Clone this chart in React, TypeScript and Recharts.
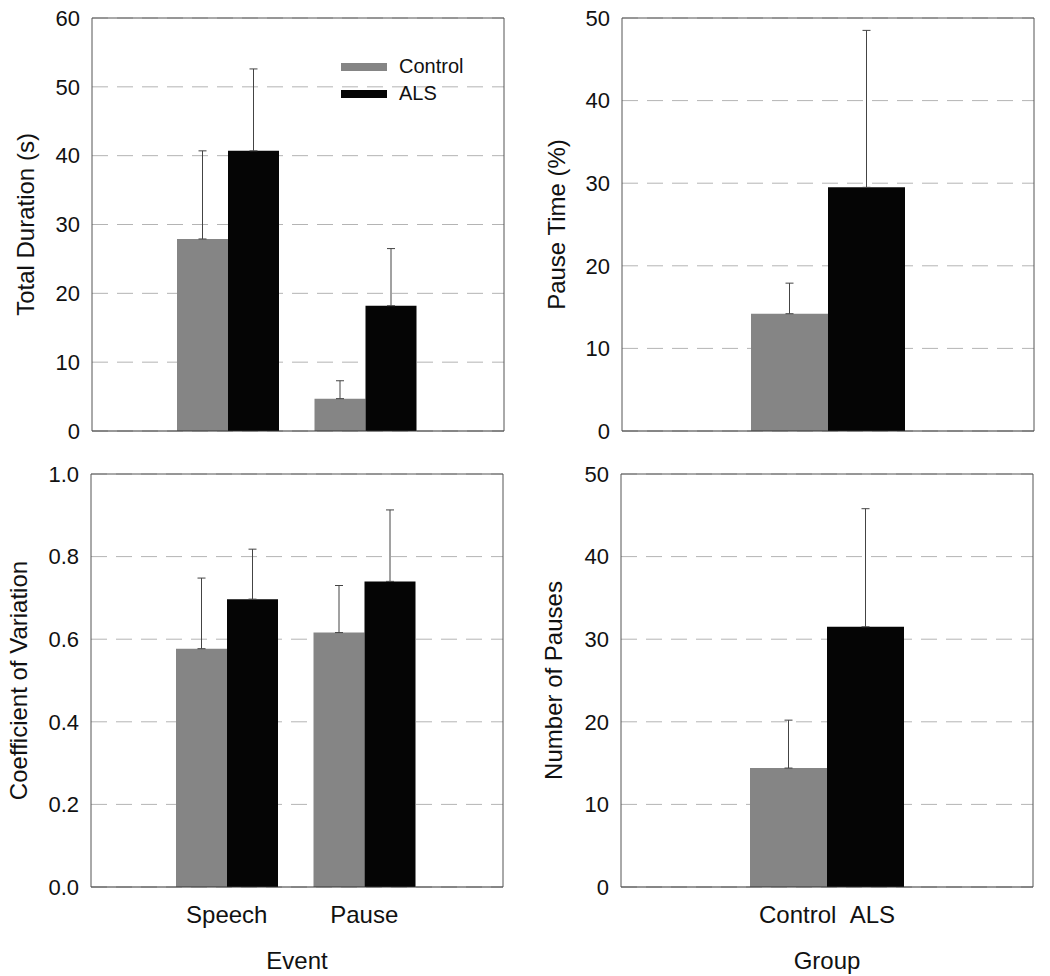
import { Bar, BarChart, CartesianGrid, ErrorBar, Label, Legend, XAxis, YAxis } from "recharts";

const FONT = '"Liberation Sans", Arial, Helvetica, sans-serif';
const GRAY = "#858585";
const BLACK = "#050505";
const FRAME = "#555";
const INK = "#111";

// categories
const events = ["Speech", "Pause"];
const groups = ["Control", "ALS"];

// total duration (s)
const durationControl = [27.9, 4.7];
const durationControlSD = [12.8, 2.6];
const durationALS = [40.7, 18.2];
const durationALSSD = [11.9, 8.3];
const durationTicks = [0, 10, 20, 30, 40, 50, 60];

// coefficient of variation
const cvControl = [0.577, 0.616];
const cvControlSD = [0.171, 0.114];
const cvALS = [0.697, 0.74];
const cvALSSD = [0.121, 0.173];
const cvTicks = [0, 0.2, 0.4, 0.6, 0.8, 1.0];

// pause time (%)
const pauseTimeControl = 14.2;
const pauseTimeControlSD = 3.7;
const pauseTimeALS = 29.5;
const pauseTimeALSSD = 19.0;
const pauseTimeTicks = [0, 10, 20, 30, 40, 50];

// number of pauses
const pauseCountControl = 14.4;
const pauseCountControlSD = 5.8;
const pauseCountALS = 31.5;
const pauseCountALSSD = 14.3;
const pauseCountTicks = [0, 10, 20, 30, 40, 50];

type Row = { name: string; control: number; controlErr: number[]; als: number; alsErr: number[] };

const byEvent = (c: number[], cs: number[], a: number[], as: number[]): Row[] =>
  events.map((name, i) => ({ name, control: c[i], controlErr: [0, cs[i]], als: a[i], alsErr: [0, as[i]] }));

const single = (name: string, c: number, cs: number, a: number, as: number): Row[] => [
  { name, control: c, controlErr: [0, cs], als: a, alsErr: [0, as] },
];

const durationData = byEvent(durationControl, durationControlSD, durationALS, durationALSSD);
const cvData = byEvent(cvControl, cvControlSD, cvALS, cvALSSD);
const pauseTimeData = single("", pauseTimeControl, pauseTimeControlSD, pauseTimeALS, pauseTimeALSSD);
const pauseCountData = single(groups.join("\u00a0\u00a0"), pauseCountControl, pauseCountControlSD, pauseCountALS, pauseCountALSSD);

const yTitle = (text: string, x: number) => (props: any) => {
  const vb = props.viewBox || {};
  const y = (vb.y ?? 0) + (vb.height ?? 0) / 2;
  return (
    <text
      x={x}
      y={y}
      transform={`rotate(-90 ${x} ${y})`}
      textAnchor="middle"
      dominantBaseline="central"
      fontSize={24}
      fontFamily={FONT}
      fill={INK}
    >
      {text}
    </text>
  );
};

const xTitle = (text: string, dy: number) => (props: any) => {
  const vb = props.viewBox || {};
  const x = (vb.x ?? 0) + (vb.width ?? 0) / 2;
  const y = (vb.y ?? 0) + dy;
  return (
    <text x={x} y={y} textAnchor="middle" dominantBaseline="central" fontSize={24} fontFamily={FONT} fill={INK}>
      {text}
    </text>
  );
};

const LegendBox = ({ payload }: any) => {
  const items = [...(payload || [])].sort((a: any, b: any) => groups.indexOf(a.value) - groups.indexOf(b.value));
  return (
    <div style={{ fontFamily: FONT, fontSize: 20, color: INK }}>
      {items.map((p: any) => (
        <div key={p.value} style={{ display: "flex", alignItems: "center", height: 27 }}>
          <span style={{ display: "inline-block", width: 46, height: 8, background: p.color, marginRight: 12 }} />
          <span>{p.value}</span>
        </div>
      ))}
    </div>
  );
};

type PanelProps = {
  left: number;
  top: number;
  height: number;
  margin: { top: number; right: number; bottom: number; left: number };
  yWidth: number;
  xHeight: number;
  data: Row[];
  ticks: number[];
  fmt?: (v: number) => string;
  yLabel: string;
  yLabelX: number;
  xLabel?: string;
  showXTicks: boolean;
  barSize: number;
  padding: { left: number; right: number };
  legend?: boolean;
};

function Panel(p: PanelProps) {
  return (
    <div style={{ position: "absolute", left: p.left, top: p.top }}>
      <BarChart width={520} height={p.height} data={p.data} margin={p.margin} barGap={0} barSize={p.barSize}>
        <CartesianGrid vertical={false} stroke="#b4b4b4" strokeDasharray="16 9" />
        <XAxis
          dataKey="name"
          height={p.xHeight}
          padding={p.padding}
          axisLine={{ stroke: "#333" }}
          tickLine={false}
          tickMargin={13}
          tick={p.showXTicks ? { fontSize: 24, fill: INK, fontFamily: FONT } : false}
        >
          {p.xLabel && <Label content={xTitle(p.xLabel, 73)} />}
        </XAxis>
        <XAxis xAxisId="frame" orientation="top" dataKey="name" height={1} tick={false} tickLine={false} axisLine={{ stroke: FRAME }} />
        <YAxis
          width={p.yWidth}
          domain={[p.ticks[0], p.ticks[p.ticks.length - 1]]}
          ticks={p.ticks}
          tickFormatter={p.fmt}
          axisLine={{ stroke: FRAME }}
          tickLine={false}
          tickMargin={6}
          tick={{ fontSize: 22, fill: INK, fontFamily: FONT }}
        >
          <Label content={yTitle(p.yLabel, p.yLabelX)} />
        </YAxis>
        <YAxis yAxisId="frame" orientation="right" width={1} domain={[0, 1]} tick={false} tickLine={false} axisLine={{ stroke: FRAME }} />
        {p.legend && (
          <Legend
            layout="vertical"
            align="center"
            verticalAlign="middle"
            wrapperStyle={{ left: 341, top: 53, width: "auto" }}
            content={<LegendBox />}
          />
        )}
        <Bar dataKey="control" name="Control" fill={GRAY} isAnimationActive={false}>
          <ErrorBar dataKey="controlErr" direction="y" width={4} stroke="#444" strokeWidth={1} />
        </Bar>
        <Bar dataKey="als" name="ALS" fill={BLACK} isAnimationActive={false}>
          <ErrorBar dataKey="alsErr" direction="y" width={4} stroke="#444" strokeWidth={1} />
        </Bar>
      </BarChart>
    </div>
  );
}

const topMargin = { top: 17, right: 15, bottom: 0, left: 0 };
const bottomMargin = { top: 13, right: 16, bottom: 0, left: 0 };

export default function App() {
  return (
    <div style={{ position: "absolute", left: 0, top: 0, width: 1050, height: 976, background: "#fff" }}>
      <Panel
        left={0}
        top={0}
        height={460}
        margin={topMargin}
        yWidth={92}
        xHeight={29}
        data={durationData}
        ticks={durationTicks}
        yLabel="Total Duration (s)"
        yLabelX={25}
        showXTicks={false}
        barSize={51}
        padding={{ left: 67, right: 70 }}
        legend
      />
      <Panel
        left={530}
        top={0}
        height={460}
        margin={topMargin}
        yWidth={92}
        xHeight={29}
        data={pauseTimeData}
        ticks={pauseTimeTicks}
        yLabel="Pause Time (%)"
        yLabelX={26}
        showXTicks={false}
        barSize={77}
        padding={{ left: 0, right: 0 }}
      />
      <Panel
        left={0}
        top={460}
        height={516}
        margin={bottomMargin}
        yWidth={91}
        xHeight={89}
        data={cvData}
        ticks={cvTicks}
        fmt={(v) => v.toFixed(1)}
        yLabel="Coefficient of Variation"
        yLabelX={18}
        xLabel="Event"
        showXTicks
        barSize={51}
        padding={{ left: 67, right: 70 }}
      />
      <Panel
        left={530}
        top={460}
        height={516}
        margin={bottomMargin}
        yWidth={91}
        xHeight={89}
        data={pauseCountData}
        ticks={pauseCountTicks}
        yLabel="Number of Pauses"
        yLabelX={23}
        xLabel="Group"
        showXTicks
        barSize={77}
        padding={{ left: 0, right: 0 }}
      />
    </div>
  );
}
